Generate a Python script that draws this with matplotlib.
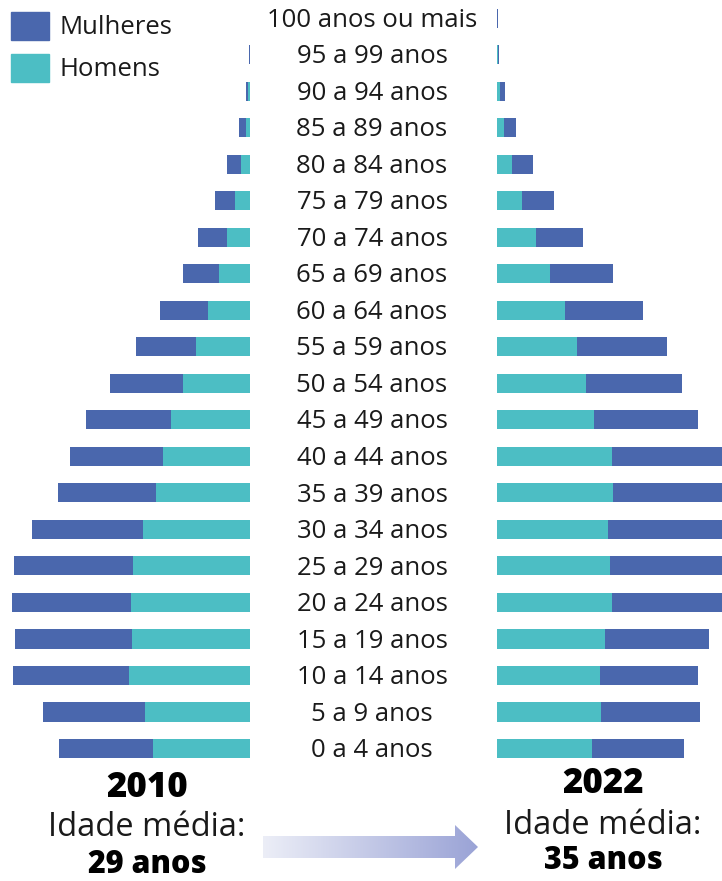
import matplotlib
matplotlib.use("Agg")
import matplotlib.pyplot as plt
from matplotlib.patches import Rectangle, Polygon
from matplotlib.colors import LinearSegmentedColormap
import matplotlib.transforms as mtransforms
import numpy as np

# age groups, bottom (0-4) to top (100+)
faixas = ["0 a 4 anos", "5 a 9 anos", "10 a 14 anos", "15 a 19 anos", "20 a 24 anos",
          "25 a 29 anos", "30 a 34 anos", "35 a 39 anos", "40 a 44 anos", "45 a 49 anos",
          "50 a 54 anos", "55 a 59 anos", "60 a 64 anos", "65 a 69 anos", "70 a 74 anos",
          "75 a 79 anos", "80 a 84 anos", "85 a 89 anos", "90 a 94 anos", "95 a 99 anos",
          "100 anos ou mais"]

# population in millions
homens_2010 = [7.02, 7.62, 8.73, 8.56, 8.63, 8.46, 7.72, 6.77, 6.32, 5.69,
               4.83, 3.90, 3.04, 2.22, 1.67, 1.09, 0.67, 0.31, 0.11, 0.03, 0.01]
mulheres_2010 = [6.78, 7.35, 8.44, 8.43, 8.61, 8.64, 8.03, 7.12, 6.69, 6.14,
                 5.31, 4.37, 3.47, 2.62, 2.07, 1.47, 1.00, 0.51, 0.21, 0.07, 0.02]
homens_2022 = [6.87, 7.50, 7.45, 7.81, 8.29, 8.15, 8.03, 8.37, 8.29, 6.99,
               6.41, 5.76, 4.92, 3.83, 2.82, 1.79, 1.08, 0.51, 0.22, 0.04, 0.02]
mulheres_2022 = [6.65, 7.16, 7.09, 7.52, 8.40, 8.40, 8.30, 8.80, 8.80, 7.52,
                 6.99, 6.56, 5.66, 4.53, 3.42, 2.31, 1.54, 0.89, 0.38, 0.12, 0.03]

anos = ["2010", "2022"]
idade_media = ["29 anos", "35 anos"]

AZUL = "#4a67ad"
VERDE = "#4cbec4"
TXT = "#1a1a1a"
FONT = "Open Sans"

W, H = 722, 881
fig = plt.figure(figsize=(W / 100, H / 100), dpi=100)

px_per_m = 13.83
ytop, ybot = 0, 766.6
axb = 1 - ybot / H
axh = (ybot - ytop) / H

y = np.arange(len(faixas))
bh = 0.53

ax_l = fig.add_axes([0, axb, 250 / W, axh])
ax_l.barh(y, homens_2010, height=bh, color=VERDE)
ax_l.barh(y, mulheres_2010, left=homens_2010, height=bh, color=AZUL)
ax_l.set_xlim(250 / px_per_m, 0)

ax_r = fig.add_axes([497 / W, axb, (W - 497) / W, axh])
ax_r.barh(y, homens_2022, height=bh, color=VERDE)
ax_r.barh(y, mulheres_2022, left=homens_2022, height=bh, color=AZUL)
ax_r.set_xlim(0, (W - 497) / px_per_m)

for ax in (ax_l, ax_r):
    ax.set_ylim(-0.5, len(faixas) - 0.5)
    ax.axis("off")

# age labels in the middle
tr = mtransforms.blended_transform_factory(fig.transFigure, ax_l.transData)
for i, lab in enumerate(faixas):
    fig.text(372 / W, i - 0.06, lab, transform=tr, ha="center", va="center",
             fontsize=18.5, color=TXT, family=FONT)

# legend
for yy, col, lab in [(12, AZUL, "Mulheres"), (54, VERDE, "Homens")]:
    fig.add_artist(Rectangle((11 / W, 1 - (yy + 28) / H), 38 / W, 28 / H,
                             transform=fig.transFigure, color=col))
    fig.text(60 / W, 1 - (yy + 15) / H, lab, ha="left", va="center",
             fontsize=18.5, color=TXT, family=FONT)

# bottom captions
for cx, yr, yi, ym, ano, med in [(147, 788, 828, 865, anos[0], idade_media[0]),
                                 (603, 784, 825, 861, anos[1], idade_media[1])]:
    fig.text(cx / W, 1 - yr / H, ano, ha="center", va="center",
             fontsize=25, fontweight="heavy", color="black", family=FONT)
    fig.text(cx / W, 1 - yi / H, "Idade média:", ha="center", va="center",
             fontsize=23.5, color=TXT, family=FONT)
    fig.text(cx / W, 1 - ym / H, med, ha="center", va="center",
             fontsize=22, fontweight="heavy", color="black", family=FONT)

# gradient arrow
ov = fig.add_axes([0, 0, 1, 1])
ov.set_xlim(0, W)
ov.set_ylim(H, 0)
ov.axis("off")
ov.patch.set_alpha(0)
cmap = LinearSegmentedColormap.from_list("seta", ["#eceef7", "#9aa3d6"])
grad = np.linspace(0, 1, 256).reshape(1, -1)
img = ov.imshow(grad, cmap=cmap, extent=(263, 478, 869, 825), aspect="auto")
seta = Polygon([(263, 836), (455, 836), (455, 825), (478, 847),
                (455, 869), (455, 858), (263, 858)], closed=True,
               facecolor="none", edgecolor="none")
ov.add_patch(seta)
img.set_clip_path(seta)

fig.savefig("out.png", dpi=100)
